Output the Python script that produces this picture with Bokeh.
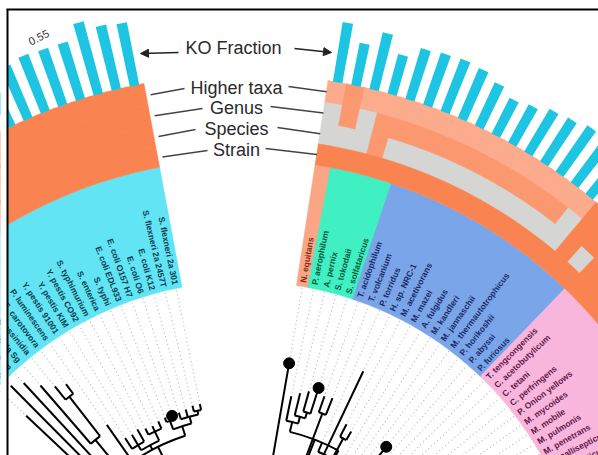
import math
from bokeh.plotting import figure
from bokeh.models import Range1d, ColumnDataSource, Arrow, NormalHead
from bokeh.embed import file_html
from bokeh.resources import INLINE
from bokeh.core.properties import value

# ---------------- data ----------------
left_taxa = ["S. flexneri 2a 301", "S. flexneri 2a 2457T", "E. coli K12", "E. coli O6",
             "E. coli O157 H7", "E. coli EDL933", "S. typhi", "S. enterica", "S. typhimurium",
             "Y. pestis CO92", "Y. pestis KIM", "Y. pestis 91001", "P. luminescens",
             "E. carotovora", "W. glossinidia", "B. aphidicola Sg", "B. aphidicola Ap",
             "B. aphidicola Bp", "B. floridanus"]
left_ko = [0.59, 0.61, 0.69, 0.55, 0.55, 0.56, 0.53, 0.55, 0.58, 0.52, 0.54, 0.56,
           0.50, 0.52, 0.48, 0.45, 0.47, 0.46, 0.44]
left_tips = [222, 222, 220, 219, 218, 219, 218, 216, 217, 220, 218, 219, 240,
             297, 302, 312, 325, 332, 300]
left_clade = ["Enterobacteria"] * 19
left_higher = ["O"] * 19
left_genus = ["O"] * 19
left_species = ["O"] * 19
left_strain = ["O"] * 19

right_taxa = ["N. equitans", "P. aerophilum", "A. pernix", "S. tokodaii", "S. solfataricus",
              "T. acidophilum", "T. volcanium", "P. torridus", "H. sp. NRC-1",
              "M. acetivorans", "M. mazei", "A. fulgidus", "M. kandleri", "M. jannaschii",
              "M. thermautotrophicus", "P. horikoshii", "P. abyssi", "P. furiosus",
              "T. tengcongensis", "C. acetobutylicum", "C. tetani", "C. perfringens",
              "P. Onion yellows", "M. mycoides", "M. mobile", "M. pulmonis", "M. penetrans",
              "M. gallisepticum", "U. urealyticum", "M. genitalium", "M. pneumoniae"]
right_ko = [0.56, 0.40, 0.54, 0.38, 0.49, 0.51, 0.52, 0.50, 0.44, 0.37, 0.40, 0.46,
            0.48, 0.52, 0.50, 0.47, 0.45, 0.43, 0.48, 0.46, 0.44, 0.47, 0.42, 0.45,
            0.43, 0.46, 0.44, 0.42, 0.45, 0.43, 0.44]
right_tips = [262, 230, 235, 239, 245, 239, 240, 195, 277, 222, 218, 180, 175, 185,
              195, 225, 180, 178, 170, 165, 172, 168, 175, 178, 170, 172, 175, 165,
              168, 170, 172]
right_clade = (["Nanoarchaeota"] + ["Crenarchaeota"] * 4 + ["Euryarchaeota"] * 13
               + ["Firmicutes"] * 13)
right_higher = ["L", "S", "L", "L"] + ["L"] * 11 + ["L"] + ["O"] * 15
right_genus = ["G", "S", "G", "S"] + ["S"] * 11 + ["G"] + ["O"] * 15
right_species = ["G", "G", "G", "S"] + ["G"] * 11 + ["G", "O", "G"] + ["O"] * 13
right_strain = ["O"] * 31

left_tree = [130, [195, [205, [212, [216, 0, 1], 2, 3], [214, 4, 5]],
                   [200, [210, 6, 7, 8], [206, 9, 10, 11]], 12],
             [170, [235, [285, 13, 14], 15], [210, 16, 17, 18]]]
right_tree = [120, 0,
              [195, [205, 1, [212, 2, [218, 3, 4]]],
               [170, [222, 5, 6], [185, 7, 8, [208, 9, 10]],
                [165, 11, 12, [190, 13, 14, 15], 16, 17]]],
              [140, [150, 18, 19, 20, 21], [145, 22, [155, 23, 24, 25, 26, 27, 28, 29, 30]]]]
marked_left = [4]
marked_right = [0, 4, 15]
labelled_bar_left = 4

ring_names = ["Higher taxa", "Genus", "Species", "Strain"]
ko_title = "KO Fraction"

clade_colors = {"Enterobacteria": "#62E4F4", "Nanoarchaeota": "#FAA585",
                "Crenarchaeota": "#40F0C2", "Euryarchaeota": "#7AA5E8",
                "Firmicutes": "#F9B6DD"}
clade_text = {"Enterobacteria": "#06404F", "Nanoarchaeota": "#7A3018",
              "Crenarchaeota": "#0A5A3E", "Euryarchaeota": "#1B2D6B",
              "Firmicutes": "#5E1A48"}
ring_colors = {"O": "#FA8451", "S": "#FB9870", "L": "#FCAB8D", "G": "#D5D5D3"}
bar_color = "#1DC5E2"

# ---------------- geometry (page pixels, y downward negated) ----------------
CX, CY = 244.0, -621.0
STEP = 1.95
L_START = 101.6
R_START = 80.2
R_BAR = 547.0
BAR_K = 108.0
BAR_W = 1.0
RINGS = [(525, 547), (504, 525), (483, 504), (462, 483)]
CLADE = (340, 462)
LABEL_R = 344
W, H = 598, 455
FRAME_X, FRAME_Y = 7, 9


def rad(d):
    return d * math.pi / 180.0


def pol(r, d):
    return CX + r * math.cos(rad(d)), CY + r * math.sin(rad(d))


sides = [
    dict(taxa=left_taxa, ko=left_ko, tips=left_tips, clade=left_clade,
         rings=[left_higher, left_genus, left_species, left_strain],
         ang=lambda k: L_START + STEP * k, flip=True, tree=left_tree, marked=marked_left),
    dict(taxa=right_taxa, ko=right_ko, tips=right_tips, clade=right_clade,
         rings=[right_higher, right_genus, right_species, right_strain],
         ang=lambda k: R_START - STEP * k, flip=False, tree=right_tree, marked=marked_right),
]

p = figure(width=W, height=H, x_range=Range1d(0, W), y_range=Range1d(-H, 0),
           output_backend="svg", toolbar_location=None, min_border=0,
           x_axis_type=None, y_axis_type=None)
p.outline_line_color = None
p.background_fill_color = "white"

wed = dict(x=[], y=[], ir=[], orr=[], sa=[], ea=[], c=[])


def add_wedge(ir, orr, a0, a1, c):
    wed["x"].append(CX); wed["y"].append(CY)
    wed["ir"].append(ir); wed["orr"].append(orr)
    wed["sa"].append(rad(a0)); wed["ea"].append(rad(a1)); wed["c"].append(c)


bars = dict(x=[], y=[], ir=[], orr=[], sa=[], ea=[])
lab = dict(x=[], y=[], t=[], a=[], c=[], al=[])
dots = dict(x=[], y=[])
segs = dict(x0=[], y0=[], x1=[], y1=[])
arcs = dict(x=[], y=[], r=[], sa=[], ea=[])
dl = dict(x0=[], y0=[], x1=[], y1=[])

for s in sides:
    n = len(s["taxa"])
    for k in range(n):
        a = s["ang"](k)
        h = STEP / 2 + 0.04
        add_wedge(CLADE[0], CLADE[1], a - h, a + h, clade_colors[s["clade"][k]])
        for (ri, ro), codes in zip(RINGS, s["rings"]):
            add_wedge(ri, ro + 0.3, a - h, a + h, ring_colors[codes[k]])
        bars["x"].append(CX); bars["y"].append(CY)
        bars["ir"].append(R_BAR); bars["orr"].append(R_BAR + s["ko"][k] * BAR_K)
        bars["sa"].append(rad(a - BAR_W / 2)); bars["ea"].append(rad(a + BAR_W / 2))
        x, y = pol(LABEL_R, a)
        lab["x"].append(x); lab["y"].append(y); lab["t"].append(s["taxa"][k])
        lab["a"].append(rad(a - 180) if s["flip"] else rad(a))
        lab["al"].append("right" if s["flip"] else "left")
        lab["c"].append(clade_text[s["clade"][k]])
        x0, y0 = pol(s["tips"][k] + 3, a)
        x1, y1 = pol(CLADE[0] - 1, a)
        dl["x0"].append(x0); dl["y0"].append(y0); dl["x1"].append(x1); dl["y1"].append(y1)

    def walk(node):
        if isinstance(node, int):
            return s["ang"](node), s["tips"][node]
        r = node[0]
        kids = [walk(c) for c in node[1:]]
        angs = [ka for ka, _ in kids]
        arcs["x"].append(CX); arcs["y"].append(CY); arcs["r"].append(r)
        arcs["sa"].append(rad(min(angs))); arcs["ea"].append(rad(max(angs)))
        for ka, kr in kids:
            x0, y0 = pol(r, ka)
            x1, y1 = pol(kr, ka)
            segs["x0"].append(x0); segs["y0"].append(y0)
            segs["x1"].append(x1); segs["y1"].append(y1)
        return (min(angs) + max(angs)) / 2, r

    walk(s["tree"])
    for k in s["marked"]:
        x, y = pol(s["tips"][k], s["ang"](k))
        dots["x"].append(x); dots["y"].append(y)

p.segment("x0", "y0", "x1", "y1", source=ColumnDataSource(dl), line_color="#b8b8b8",
          line_width=1.2, line_dash="1 3")
p.annular_wedge("x", "y", "ir", "orr", "sa", "ea", source=ColumnDataSource(wed),
                fill_color="c", line_color="c", line_width=0.5)
p.annular_wedge("x", "y", "ir", "orr", "sa", "ea", source=ColumnDataSource(bars),
                fill_color=bar_color, line_color=None)
p.text("x", "y", text="t", angle="a", text_align="al", text_baseline="middle",
       text_color="c", source=ColumnDataSource(lab), text_font=value("Liberation Sans"),
       text_font_size=value("8.5px"), text_font_style="bold")
p.segment("x0", "y0", "x1", "y1", source=ColumnDataSource(segs), line_color="black",
          line_width=2)
p.arc("x", "y", "r", "sa", "ea", source=ColumnDataSource(arcs), line_color="black",
      line_width=2)
p.scatter("x", "y", source=ColumnDataSource(dots), size=11, color="black")

# value label on one bar
la = L_START + STEP * labelled_bar_left
lx, ly = pol(R_BAR + left_ko[labelled_bar_left] * BAR_K + 13, la)
p.text([lx], [ly], text=[f"{left_ko[labelled_bar_left]:.2f}"], angle=rad(la - 90 + 8),
       text_align="center", text_baseline="middle", text_color="#333333",
       text_font=value("Liberation Sans"), text_font_size=value("11px"))

# ring legend labels with leader lines
TX = 236
ty = [-87, -107, -128, -149]
text_w = [96, 60, 74, 50]
lx0, ly0, lx1, ly1 = [], [], [], []
for (ri, ro), yy, w in zip(RINGS, ty, text_w):
    rm = (ri + ro) / 2
    ex, ey = pol(rm, L_START - STEP / 2)
    lx0.append(ex + 5); ly0.append(ey)
    lx1.append(TX - w / 2 - 4); ly1.append(yy - 1)
    ex, ey = pol(rm, R_START + STEP / 2)
    lx0.append(ex); ly0.append(ey)
    lx1.append(TX + w / 2 + 4); ly1.append(yy + 1)
p.segment(lx0, ly0, lx1, ly1, line_color="#444444", line_width=1.5)
p.text([TX] * 4, ty, text=ring_names, text_align="center", text_baseline="middle",
       text_color="#2a2a2a", text_font=value("Liberation Sans"),
       text_font_size=value("18px"))
p.text([TX - 3], [-47], text=[ko_title], text_align="center", text_baseline="middle",
       text_color="#2a2a2a", text_font=value("Liberation Sans"),
       text_font_size=value("18px"))
p.add_layout(Arrow(end=NormalHead(size=8, fill_color="#222222", line_color="#222222"),
                   x_start=178, y_start=-52, x_end=140, y_end=-53,
                   line_color="#222222", line_width=1.5))
p.add_layout(Arrow(end=NormalHead(size=8, fill_color="#222222", line_color="#222222"),
                   x_start=294, y_start=-48, x_end=331, y_end=-52,
                   line_color="#222222", line_width=1.5))

# crop frame: blank outside, black border on top and left
p.quad(left=[0, 0], right=[FRAME_X, W], top=[0, 0], bottom=[-H, -FRAME_Y],
       fill_color="white", line_color=None)
p.segment([FRAME_X, FRAME_X - 1], [-FRAME_Y, -FRAME_Y], [FRAME_X, W], [-H, -FRAME_Y],
          line_color="black", line_width=2)

open("out.html", "w").write(file_html(p, INLINE))
